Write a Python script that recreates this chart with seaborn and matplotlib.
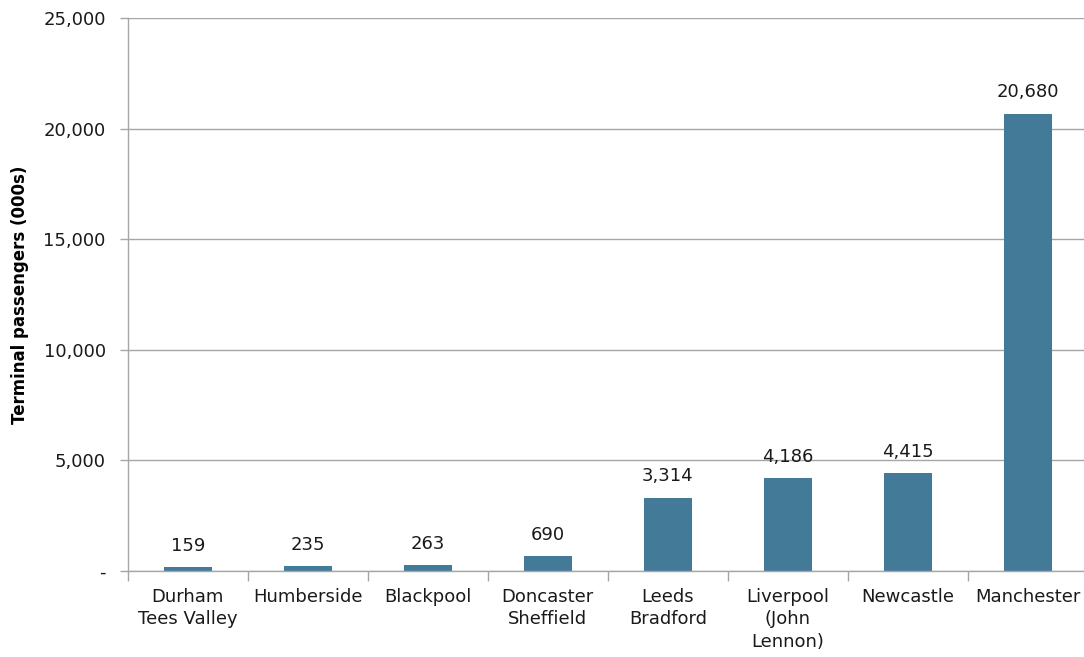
import matplotlib
matplotlib.use("Agg")
import matplotlib.pyplot as plt
import seaborn as sns
import pandas as pd
from matplotlib.ticker import FuncFormatter, FixedLocator

# Data
airports = ["Durham\nTees Valley", "Humberside", "Blackpool", "Doncaster\nSheffield",
            "Leeds\nBradford", "Liverpool\n(John\nLennon)", "Newcastle", "Manchester"]
passengers = [159, 235, 263, 690, 3314, 4186, 4415, 20680]

df = pd.DataFrame({"Airport": airports, "Passengers": passengers})

plt.rcParams['font.family'] = ['DejaVu Sans']
grey = "#A6A6A6"

fig = plt.figure(figsize=(10.84, 6.57), dpi=100)
# axes runs a touch past the right edge so only the gridlines reach the border
ax = fig.add_axes([0.118, 0.131, 0.8855, 0.8416])

sns.barplot(data=df, x="Airport", y="Passengers", color="#427A98", width=0.40,
            saturation=1, linewidth=0, ax=ax)

ax.set_ylim(0, 25000)
ax.set_xlim(-0.5, len(airports) - 0.5)
ax.set_yticks(range(0, 25001, 5000))
ax.yaxis.set_major_formatter(FuncFormatter(lambda v, p: "-" if v == 0 else f"{int(v):,}"))
ax.yaxis.grid(True, which="major", color=grey, linewidth=1)
ax.set_axisbelow(True)

# category labels without tick marks, ticks at category boundaries instead
ax.tick_params(axis="x", which="major", bottom=False, labelsize=13, pad=9, labelcolor="#1A1A1A")
for lbl in ax.get_xticklabels():
    lbl.set_linespacing(1.3)
ax.xaxis.set_minor_locator(FixedLocator([i + 0.5 for i in range(-1, len(airports))]))
ax.tick_params(axis="x", which="minor", bottom=True, length=7, width=1, color=grey, direction="out")
ax.tick_params(axis="y", which="major", left=True, length=6, width=1, color=grey,
               labelsize=13, pad=10, labelcolor="#1A1A1A")

ax.spines["top"].set_visible(False)
ax.spines["right"].set_visible(False)
for s in ["left", "bottom"]:
    ax.spines[s].set_color(grey)
    ax.spines[s].set_linewidth(1)

for i, v in enumerate(passengers):
    ax.text(i, v + 550, f"{v:,}", ha="center", va="bottom", fontsize=13, color="#1A1A1A")

ax.set_xlabel("")
ax.set_ylabel("Terminal passengers (000s)", fontsize=12, fontweight="bold", labelpad=10)

fig.savefig("out.png", dpi=100)
